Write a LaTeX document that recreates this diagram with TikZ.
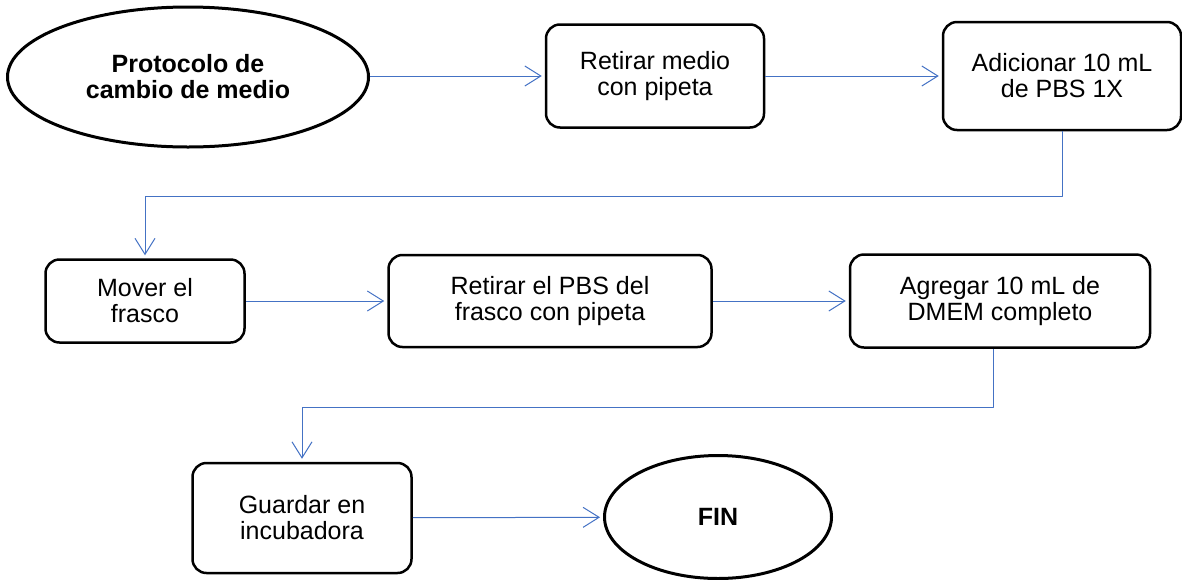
\documentclass[tikz,border=0pt]{standalone}
\usepackage{fontspec}
\setmainfont{Liberation Sans}
\usetikzlibrary{shapes.geometric,arrows.meta}
\definecolor{flecha}{RGB}{68,114,196}
\begin{document}
\begin{tikzpicture}[x=1pt, y=-1pt, line join=round, >={Straight Barb[length=16pt,width=20pt]},
		caja/.style={draw, line width=2.5pt, rounded corners=14pt, align=center, inner sep=0pt, font=\fontsize{25}{26}\selectfont},
		elipse/.style={draw, ellipse, line width=3pt, align=center, inner sep=0pt, font=\fontsize{25}{26}\selectfont\bfseries},
		flujo/.style={->, draw=flecha, line width=1pt, shorten >=3pt}]
			\useasboundingbox (0,0) rectangle (1182,579);
			% fila 1
			\node[elipse, minimum width=361pt, minimum height=140pt] (inicio) at (188,77) {Protocolo de\\cambio de medio};
			\node[caja, minimum width=218pt, minimum height=103pt] (retirar) at (655,76) {Retirar medio\\con pipeta};
			\node[caja, minimum width=238pt, minimum height=108pt] (pbs) at (1062,76) {Adicionar 10 mL\\de PBS 1X};
			% fila 2
			\node[caja, minimum width=199pt, minimum height=83pt] (mover) at (145,301) {Mover el\\frasco};
			\node[caja, minimum width=323pt, minimum height=92pt] (retpbs) at (550,301) {Retirar el PBS del\\frasco con pipeta};
			\node[caja, minimum width=300pt, minimum height=93pt] (dmem) at (1000,301) {Agregar 10 mL de\\DMEM completo};
			% fila 3
			\node[caja, minimum width=219pt, minimum height=110pt] (guardar) at (302,518) {Guardar en\\incubadora};
			\node[elipse, minimum width=227pt, minimum height=123pt] (fin) at (718,517) {FIN};
			% flechas
			\draw[flujo] (inicio.east |- retirar) -- (retirar);
			\draw[flujo] (retirar) -- (pbs);
			\draw[flujo] (pbs.south) -- ++(0,65) -| (mover.north);
			\draw[flujo] (mover) -- (retpbs);
			\draw[flujo] (retpbs) -- (dmem);
			\draw[flujo] ([xshift=-7pt]dmem.south) -- ++(0,59) -| (guardar.north);
			\draw[flujo] (guardar) -- (fin);
		\end{tikzpicture}
\end{document}
